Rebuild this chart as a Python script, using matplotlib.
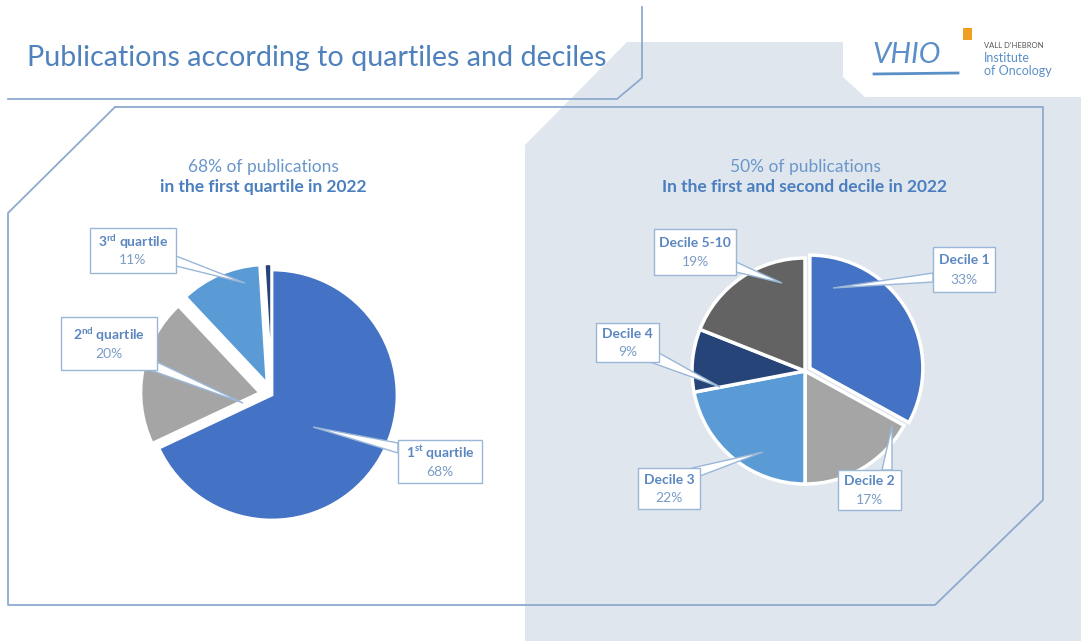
import matplotlib
matplotlib.use("Agg")
import matplotlib.pyplot as plt
from matplotlib.patches import Polygon, Rectangle

# data
q_labels = ["1st quartile", "2nd quartile", "3rd quartile", "4th quartile"]
q_values = [68, 20, 11, 1]
d_labels = ["Decile 1", "Decile 2", "Decile 3", "Decile 4", "Decile 5-10"]
d_values = [33, 17, 22, 9, 19]

W, H = 1081, 641
plt.rcParams['font.family'] = ['Lato', 'DejaVu Sans']
plt.rcParams['mathtext.fontset'] = 'custom'
plt.rcParams['mathtext.rm'] = 'Lato'
plt.rcParams['mathtext.bf'] = 'Lato:bold'

BLUE = "#4472c4"
GREY = "#a5a5a5"
LBLUE = "#5b9bd5"
NAVY = "#264478"
DGREY = "#636363"
LINE = "#8eaad0"
TXT = "#4f81bd"

fig = plt.figure(figsize=(W / 100, H / 100), dpi=100)
ax = fig.add_axes([0, 0, 1, 1])


def Y(y):
    # image row -> data y
    return H - y


def poly(pts, **kw):
    ax.add_patch(Polygon([(x, Y(y)) for x, y in pts], closed=True, **kw))


def line(pts, **kw):
    ax.plot([p[0] for p in pts], [Y(p[1]) for p in pts], **kw)


# background shapes
poly([(627, 42), (843, 42), (843, 77), (865, 97), (1081, 97), (1081, 641),
      (525, 641), (525, 145)], facecolor="#dfe6ee", edgecolor="none", zorder=0)
line([(642, 7), (642, 78), (617, 99), (8, 99)], color=LINE, lw=1.3, zorder=1)
line([(115, 107), (1043, 107), (1043, 500), (935, 605), (8, 605), (8, 213), (115, 107)],
     color=LINE, lw=1.3, zorder=1)

# title + logo
ax.text(27, Y(58), "Publications according to quartiles and deciles", fontsize=20.6,
        color=TXT, va="center", ha="left")
ax.text(872, Y(55), "VHIO", fontsize=21, style="italic", color="#5b8fc7",
        va="center", ha="left")
line([(874, 74), (958, 73)], color="#5b8fc7", lw=2)
ax.add_patch(Rectangle((963, Y(40)), 9, 12, facecolor="#f0a020", edgecolor="none"))
ax.text(984, Y(45), "VALL D'HEBRON", fontsize=5.5, color="#555555", va="center")
ax.text(984, Y(58), "Institute", fontsize=9, color="#5b8fc7", va="center")
ax.text(984, Y(71), "of Oncology", fontsize=9, color="#5b8fc7", va="center")

# subtitles
ax.text(263, Y(167), "68% of publications", fontsize=12.5, color="#6a97cb", ha="center", va="center")
ax.text(263, Y(187), "in the first quartile in 2022", fontsize=12.5, color="#4a7ebf",
        fontweight="bold", ha="center", va="center")
ax.text(805, Y(167), "50% of publications", fontsize=12.5, color="#6a97cb", ha="center", va="center")
ax.text(805, Y(187), "In the first and second decile in 2022", fontsize=12.5, color="#4a7ebf",
        fontweight="bold", ha="center", va="center")

# left pie
R1 = 125
w1, _ = ax.pie(q_values, colors=[BLUE, GREY, LBLUE, NAVY], startangle=90, counterclock=False,
               center=(272, Y(395)), radius=R1, frame=True,
               explode=[0, 0.1 * R1, 0.1 * R1, 0.1 * R1],
               wedgeprops=dict(edgecolor="white", linewidth=2))
for w in w1[1:]:
    w.set_radius(R1 * 0.95)

# right pie
R2 = 113
ax.pie(d_values, colors=[BLUE, GREY, LBLUE, NAVY, DGREY], startangle=90, counterclock=False,
       center=(805, Y(371)), radius=R2, frame=True,
       explode=[0.05 * R2, 0, 0, 0, 0],
       wedgeprops=dict(edgecolor="white", linewidth=2.5))


def callout(box, tip, base, name, value):
    x0, y0, x1, y1 = box
    poly([base[0], tip, base[1]], facecolor="white", edgecolor="#9ab7d8", lw=1, zorder=5)
    ax.add_patch(Rectangle((x0, Y(y1)), x1 - x0, y1 - y0, facecolor="white",
                           edgecolor="#9ab7d8", lw=1, zorder=6))
    cx, cy = (x0 + x1) / 2, (y0 + y1) / 2
    ax.text(cx, Y(cy - 9), name, fontsize=10, fontweight="bold", color="#5b86c0",
            ha="center", va="center", zorder=7)
    ax.text(cx, Y(cy + 10), value, fontsize=10, color="#7b9cc6",
            ha="center", va="center", zorder=7)


callout((398, 440, 482, 483), (313, 427), [(398, 443), (398, 453)],
        r"1$^{\mathbf{st}}$ quartile", f"{q_values[0]}%")
callout((61, 317, 157, 370), (243, 403), [(157, 362), (150, 370)],
        r"2$^{\mathbf{nd}}$ quartile", f"{q_values[1]}%")
callout((90, 228, 176, 273), (245, 283), [(176, 256), (176, 266)],
        r"3$^{\mathbf{rd}}$ quartile", f"{q_values[2]}%")

callout((933, 247, 995, 292), (833, 288), [(933, 273), (933, 282)], d_labels[0], f"{d_values[0]}%")
callout((838, 470, 901, 510), (892, 426), [(882, 470), (892, 470)], d_labels[1], f"{d_values[1]}%")
callout((638, 468, 700, 509), (763, 452), [(692, 468), (700, 476)], d_labels[2], f"{d_values[2]}%")
callout((596, 323, 659, 362), (720, 387), [(650, 362), (659, 353)], d_labels[3], f"{d_values[3]}%")
callout((654, 229, 736, 275), (782, 283), [(736, 262), (736, 272)], d_labels[4], f"{d_values[4]}%")

ax.set_xlim(0, W)
ax.set_ylim(0, H)
ax.axis("off")
fig.savefig("out.png", dpi=100, facecolor="white")
